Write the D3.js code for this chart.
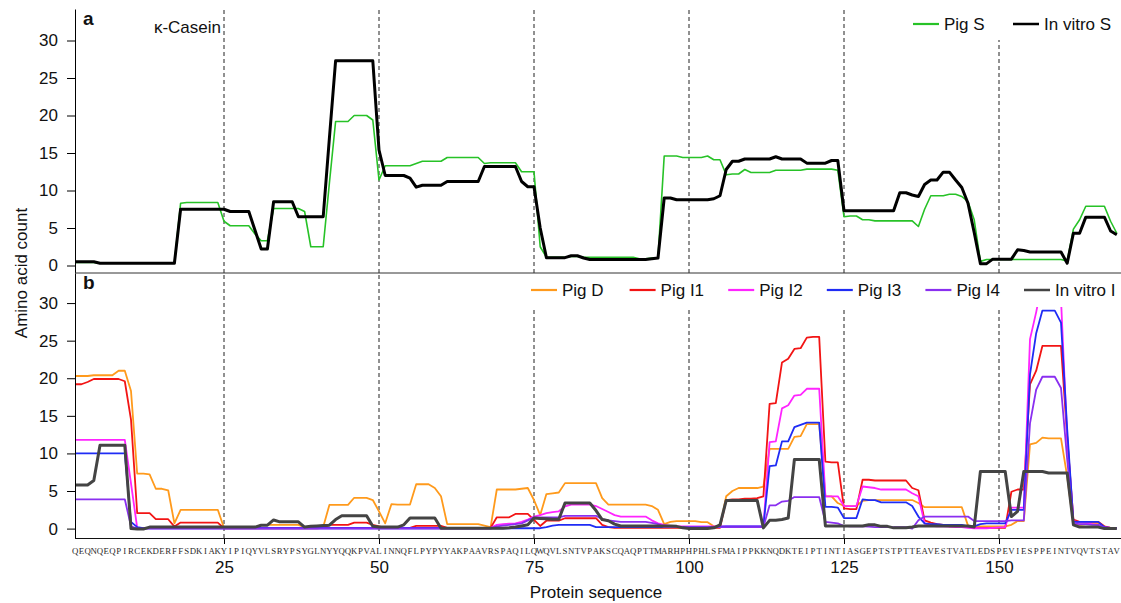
<!doctype html>
<html>
<head>
<meta charset="utf-8">
<script src="https://d3js.org/d3.v7.min.js"></script>
<style>
  body { margin: 0; background: #fff; }
  text { font-family: "Liberation Sans", Arial, Helvetica, sans-serif; }
</style>
</head>
<body>
<script>
// kappa-casein sequence, one letter per residue position
var sequence = "QEQNQEQPIRCEKDERFFSDKIAKYIPIQYVLSRYPSYGLNYYQQKPVALINNQFLPYPYYAKPAAVRSPAQILQWQVLSNTVPAKSCQAQPTTMARHPHPHLSFMAIPPKKNQDKTEIPTINTIASGEPTSTPTTEAVESTVATLEDSPEVIESPPEINTVQVTSTAV";
var xTicks = [25, 50, 75, 100, 125, 150];
var yTicks = [0, 5, 10, 15, 20, 25, 30];

// panel a : stomach
var pigS = [
  0.4,0.4,0.4,0.4,0.3,0.3,0.3,0.3,0.3,0.3,
  0.3,0.3,0.3,0.3,0.3,0.3,0.3,8.3,8.4,8.4,
  8.4,8.4,8.4,8.4,5.9,5.3,5.3,5.3,5.3,4.2,
  3.3,3.3,7.6,7.6,7.6,7.6,7.6,7.2,2.5,2.5,
  2.5,11,19.2,19.2,19.2,20,20,20,19.4,11.4,
  13.3,13.3,13.3,13.3,13.3,13.6,13.9,13.9,13.9,13.9,
  14.4,14.4,14.4,14.4,14.4,14.4,13.6,13.7,13.7,13.7,
  13.7,13.7,12.5,12.5,12.5,2.5,1.1,1.1,1.1,1.1,
  1.2,1.2,1.1,1.1,1.1,1.1,1.1,1.1,1.1,1.1,
  1.1,0.9,0.9,1.0,1.0,14.6,14.6,14.6,14.4,14.4,
  14.4,14.4,14.6,14.1,14.1,12.1,12.2,12.2,12.8,12.4,
  12.4,12.4,12.4,12.7,12.7,12.7,12.7,12.7,12.85,12.85,
  12.85,12.85,12.85,12.7,6.5,6.6,6.6,6.1,6.1,5.95,
  5.95,5.95,5.95,5.95,5.95,5.95,5.2,7.5,9.3,9.3,
  9.3,9.5,9.5,9.2,8.5,6.1,0.55,0.8,0.8,0.8,
  0.8,0.8,0.8,0.8,0.8,0.8,0.8,0.8,0.8,0.8,
  0.6,4.85,6.1,7.9,7.9,7.9,7.9,5.9,4.3
];
var vitroS = [
  0.5,0.5,0.5,0.5,0.3,0.3,0.3,0.3,0.3,0.3,
  0.3,0.3,0.3,0.3,0.3,0.3,0.3,7.5,7.5,7.5,
  7.5,7.5,7.5,7.5,7.5,7.2,7.2,7.2,7.2,4.7,
  2.2,2.2,8.5,8.5,8.5,8.5,6.5,6.5,6.5,6.5,
  6.5,17,27.3,27.3,27.3,27.3,27.3,27.3,27.3,15.4,
  12,12,12,12,11.65,10.45,10.7,10.7,10.7,10.7,
  11.2,11.2,11.2,11.2,11.2,11.2,13.2,13.2,13.2,13.2,
  13.2,13.2,11.2,10.5,10.5,5.0,1.05,1.05,1.05,1.05,
  1.3,1.3,1.0,0.8,0.8,0.8,0.8,0.8,0.8,0.8,
  0.8,0.8,0.8,0.9,1.0,9.0,9.0,8.76,8.76,8.76,
  8.76,8.76,8.76,8.9,9.3,12.8,13.9,13.9,14.2,14.2,
  14.2,14.2,14.2,14.5,14.2,14.2,14.2,14.2,13.65,13.65,
  13.65,13.65,14,14,7.3,7.3,7.3,7.3,7.3,7.3,
  7.3,7.3,7.3,9.7,9.7,9.4,9.2,10.8,11.4,11.4,
  12.45,12.45,11.4,10.4,8.3,4.4,0.25,0.25,0.85,0.85,
  0.85,0.85,2.1,2.0,1.8,1.8,1.8,1.8,1.8,1.8,
  0.3,4.3,4.3,6.45,6.45,6.45,6.45,4.6,4.1
];

// panel b : duodenum, intestine and in vitro intestinal
var pigD = [
  20.3,20.3,20.3,20.4,20.4,20.4,20.4,21.0,21.0,18.3,
  7.3,7.3,7.2,5.3,5.3,5.1,0.7,2.5,2.5,2.5,
  2.5,2.5,2.5,2.5,0.1,0.1,0.1,0.1,0.1,0.1,
  0.5,0.5,0.5,0.5,0.5,0.5,0.5,0.2,0.2,0.2,
  0.2,3.15,3.15,3.15,3.15,4.1,4.1,4.1,3.8,2.3,
  0.7,3.25,3.2,3.2,3.2,5.9,5.9,5.9,5.4,4.3,
  0.6,0.6,0.6,0.6,0.6,0.6,0.4,0.2,5.2,5.2,
  5.2,5.2,5.3,5.4,3.8,1.8,4.6,4.7,4.8,6.05,
  6.05,6.05,6.05,6.05,6.05,4.05,3.2,3.2,3.2,3.2,
  3.2,3.2,3.2,3.0,2.5,0.6,0.9,1.0,1.0,1.0,
  1.0,0.85,0.85,0.3,0.3,4.3,5.0,5.4,5.4,5.4,
  5.4,5.6,10.6,10.6,10.6,10.6,12.2,12.3,13.9,13.9,
  13.9,4.3,4.3,3.4,3.0,3.0,3.0,3.7,3.8,3.8,
  3.8,3.8,3.8,3.8,3.8,3.8,3.4,2.85,2.85,2.85,
  2.85,2.85,2.85,2.85,0.4,0.3,0.3,0.3,0.3,0.3,
  0.3,0.5,1.0,1.0,11.2,11.4,12.1,12.0,12.0,12.0,
  6.9,0.6,0.5,0.6,0.7,0.7,0.2,0.1,0.1
];
var pigI1 = [
  19.2,19.2,19.5,19.9,19.9,19.9,19.9,19.9,19.6,14.5,
  2.05,2.05,2.05,1.25,1.25,1.25,0.27,0.8,0.8,0.8,
  0.8,0.8,0.8,0.8,0.05,0.05,0.05,0.05,0.05,0.05,
  0.05,0.05,0.05,0.05,0.05,0.05,0.05,0.05,0.05,0.05,
  0.1,0.5,0.5,0.5,0.5,0.8,0.8,0.8,0.5,0.3,
  0.1,0.1,0.1,0.1,0.1,0.35,0.35,0.35,0.35,0.35,
  0.1,0.1,0.1,0.1,0.1,0.1,0.1,0.1,1.5,1.5,
  1.5,1.95,1.95,1.95,1.15,0.35,1.05,1.05,1.05,1.38,
  1.38,1.38,1.38,1.38,1.38,0.5,0.2,0.1,0.1,0.1,
  0.1,0.1,0.1,0.1,0.1,0.1,0.1,0.1,0.1,0.1,
  0.1,0.1,0.1,0.1,0.1,3.8,3.9,3.9,4.0,4.0,
  4.05,4.3,16.6,16.7,22.1,22.6,23.9,24.0,25.4,25.5,
  25.5,8.9,8.8,8.8,2.7,2.6,2.6,6.5,6.5,6.4,
  6.4,6.4,6.4,6.4,6.4,5.4,5.1,1.1,0.8,0.6,
  0.5,0.3,0.3,0.3,0.3,0.1,0.1,0.1,0.1,0.1,
  0.1,4.9,5.2,5.2,19.2,21.0,24.3,24.3,24.3,24.3,
  12.2,1.2,0.9,0.9,0.9,0.9,0.3,0.1,0.1
];
var pigI2 = [
  11.8,11.8,11.8,11.8,11.8,11.8,11.8,11.8,11.8,6.0,
  0.1,0.1,0.1,0.1,0.1,0.1,0.1,0.1,0.1,0.1,
  0.1,0.1,0.1,0.1,0.1,0.1,0.1,0.1,0.1,0.1,
  0.1,0.1,0.1,0.1,0.1,0.1,0.1,0.1,0.1,0.1,
  0.1,0.1,0.1,0.1,0.1,0.1,0.1,0.1,0.1,0.1,
  0.1,0.1,0.1,0.1,0.1,0.1,0.1,0.1,0.1,0.1,
  0.1,0.1,0.1,0.1,0.1,0.1,0.1,0.1,0.5,0.6,
  0.65,0.7,0.9,1.2,1.6,1.8,2.05,2.2,2.3,2.95,
  3.2,3.2,3.2,3.2,3.0,2.6,2.2,1.8,1.6,1.6,
  1.6,1.6,1.6,1.1,0.7,0.5,0.35,0.3,0.3,0.3,
  0.3,0.3,0.3,0.3,0.3,0.3,0.3,0.3,0.3,0.3,
  0.3,0.3,11.5,11.6,16.0,16.4,17.7,17.8,18.6,18.6,
  18.6,4.3,4.3,4.3,3.0,3.0,3.0,5.6,5.5,5.4,
  5.2,5.2,5.2,5.2,5.2,4.7,4.3,0.7,0.35,0.3,
  0.3,0.25,0.2,0.2,0.1,0.05,0.05,0.05,0.1,0.15,
  0.2,2.8,2.8,2.8,25.2,28.8,33.0,33.5,33.5,30.5,
  12.0,1.0,0.8,0.8,0.6,0.5,0.2,0.1,0.1
];
var pigI3 = [
  10,10,10,10,10,10,10,10,10,0.9,
  0.2,0.05,0.05,0.05,0.05,0.05,0.05,0.05,0.05,0.05,
  0.05,0.05,0.05,0.05,0.05,0.05,0.05,0.05,0.05,0.05,
  0.05,0.05,0.05,0.05,0.05,0.05,0.05,0.05,0.05,0.05,
  0.05,0.05,0.05,0.05,0.05,0.05,0.05,0.05,0.05,0.05,
  0.05,0.05,0.05,0.05,0.05,0.05,0.05,0.05,0.05,0.05,
  0.05,0.05,0.05,0.05,0.05,0.05,0.05,0.05,0.05,0.05,
  0.05,0.05,0.05,0.05,0.05,0.05,0.2,0.4,0.5,0.5,
  0.5,0.5,0.5,0.5,0.2,0.2,0.2,0.2,0.2,0.2,
  0.2,0.2,0.2,0.2,0.2,0.2,0.2,0.2,0.2,0.2,
  0.2,0.2,0.2,0.2,0.25,0.3,0.3,0.3,0.3,0.3,
  0.3,0.3,8.3,8.4,11.6,11.6,13.5,13.8,14.1,14.1,
  14.1,2.9,2.9,2.8,1.4,1.4,1.4,3.9,3.8,3.8,
  3.5,3.5,3.5,3.5,3.5,3.0,1.6,0.7,0.6,0.6,
  0.5,0.5,0.5,0.5,0.3,0.3,0.6,0.7,0.7,0.7,
  0.7,2.5,2.5,2.5,20.5,26.0,29.0,29.0,29.0,27.4,
  13.2,0.9,0.9,0.9,0.9,0.9,0.2,0.1,0.05
];
var pigI4 = [
  3.9,3.9,3.9,3.9,3.9,3.9,3.9,3.9,3.9,0.3,
  0,0,0,0,0,0,0,0,0,0,
  0,0,0,0,0,0,0,0,0,0,
  0,0,0,0,0,0,0,0,0,0,
  0,0,0,0,0,0,0,0,0,0,
  0,0,0,0,0,0,0,0,0,0,
  0,0,0,0,0,0,0,0,0.3,0.4,
  0.5,0.6,0.7,1.1,1.5,1.5,1.5,1.5,1.5,1.7,
  1.7,1.7,1.7,1.7,1.7,1.25,1.1,1.0,0.9,0.9,
  0.9,0.9,0.9,0.75,0.6,0.2,0.2,0.2,0.2,0.2,
  0.2,0.2,0.2,0.2,0.2,0.2,0.2,0.2,0.2,0.2,
  0.2,0.2,3.1,3.1,3.6,3.7,4.2,4.2,4.2,4.2,
  4.2,0.9,0.8,0.7,0.35,0.3,0.3,0.3,0.25,0.2,
  0.2,0.2,0.2,0.2,0.2,0.0,1.1,1.6,1.6,1.6,
  1.6,1.6,1.6,1.6,1.6,1.0,1.0,1.0,1.0,1.0,
  1.0,1.1,1.1,1.1,14.0,18.5,20.2,20.2,20.2,18.7,
  9.2,0.7,0.6,0.6,0.5,0.5,0.1,0.05,0.05
];
var vitroI = [
  5.8,5.8,5.8,6.4,11.1,11.1,11.1,11.1,11.1,0.0,
  -0.05,-0.05,0.2,0.2,0.2,0.2,0.2,0.2,0.2,0.2,
  0.2,0.2,0.2,0.2,0.2,0.2,0.2,0.2,0.2,0.2,
  0.45,0.45,1.15,0.9,0.9,0.9,0.9,0.2,0.3,0.35,
  0.4,0.45,1.2,1.7,1.7,1.7,1.7,1.7,0.3,0.2,
  0.2,0.2,0.2,0.5,1.4,1.4,1.4,1.4,1.4,0.05,
  0.05,0.05,0.05,0.05,0.05,0.05,0.05,0.05,0.05,0.05,
  0.1,0.2,0.35,0.5,1.4,1.35,1.3,1.25,1.25,3.4,
  3.4,3.4,3.4,3.4,2.4,1.2,1.05,0.6,0.35,0.35,
  0.35,0.35,0.35,0.35,0.35,0.35,0.35,0.3,0.1,0.0,
  0.0,0.0,0.0,0.1,0.5,3.75,3.75,3.75,3.75,3.75,
  3.75,0.1,1.1,1.1,1.2,1.4,9.2,9.2,9.2,9.2,
  9.2,0.35,0.35,0.35,0.35,0.35,0.35,0.35,0.5,0.5,
  0.3,0.3,0.1,0.1,0.1,0.2,0.35,0.35,0.35,0.35,
  0.35,0.35,0.35,0.35,0.35,0.2,7.6,7.6,7.6,7.6,
  7.6,1.6,2.3,7.6,7.6,7.6,7.6,7.4,7.4,7.4,
  7.4,0.5,0.2,0.2,0.2,0.2,0.0,0.0,0.0
];

// page and scales
var width = 1121, height = 603;
var left = 75, right = 1121;

var svg = d3.select("body")
  .append("svg")
    .attr("width", width)
    .attr("height", height);

var x = d3.scaleLinear()
  .domain([1, sequence.length])
  .range([75.2, 1116.8]);

var panels = [
  {
    label: "a",
    y: d3.scaleLinear().domain([-1, 34.2]).range([273, 9]),
    series: [
      {name: "Pig S", values: pigS, color: "#27c227", width: 1.6},
      {name: "In vitro S", values: vitroS, color: "#000000", width: 3}
    ],
    legendStart: 913, legendStep: 100, legendY: 24,
    box: {x: 900, y: 9, w: 221, h: 31}
  },
  {
    label: "b",
    y: d3.scaleLinear().domain([-1.25, 34]).range([538, 273]),
    series: [
      {name: "Pig D", values: pigD, color: "#ff9a1c", width: 1.8},
      {name: "Pig I1", values: pigI1, color: "#f21414", width: 1.8},
      {name: "Pig I2", values: pigI2, color: "#ff24ff", width: 1.8},
      {name: "Pig I3", values: pigI3, color: "#1f2cf5", width: 1.8},
      {name: "Pig I4", values: pigI4, color: "#8a2ff0", width: 1.8},
      {name: "In vitro I", values: vitroI, color: "#444444", width: 3}
    ],
    legendStart: 531, legendStep: 98.6, legendY: 290,
    box: {x: 522, y: 274, w: 599, h: 33}
  }
];

panels.forEach(function(p) {
  var g = svg.append("g");
  var y = p.y;

  // dashed guide lines every 25 residues
  g.selectAll(".guide")
    .data(xTicks)
    .join("line")
      .attr("x1", d => x(d)).attr("x2", d => x(d))
      .attr("y1", y.range()[0]).attr("y2", y.range()[1])
      .attr("stroke", "#222")
      .attr("stroke-width", 1)
      .attr("stroke-dasharray", "4,3");

  // the series
  var line = d3.line()
    .x((d, i) => x(i + 1))
    .y(d => y(d));

  p.series.forEach(function(s) {
    g.append("path")
      .datum(s.values)
      .attr("fill", "none")
      .attr("stroke", s.color)
      .attr("stroke-width", s.width)
      .attr("stroke-linejoin", "round")
      .attr("d", line);
  });

  // legend sits on a white box
  g.append("rect")
    .attr("x", p.box.x).attr("y", p.box.y)
    .attr("width", p.box.w).attr("height", p.box.h)
    .attr("fill", "#fff");

  var leg = g.selectAll(".leg")
    .data(p.series)
    .join("g")
      .attr("transform", (d, i) => `translate(${p.legendStart + i * p.legendStep}, ${p.legendY})`);
  leg.append("line")
    .attr("x1", 0).attr("x2", 26)
    .attr("stroke", d => d.color)
    .attr("stroke-width", d => d.width > 2 ? 2.5 : 2.2);
  leg.append("text")
    .attr("x", 31).attr("y", 6)
    .attr("font-size", 17)
    .attr("fill", "#111")
    .text(d => d.name);

  // panel letter
  g.append("text")
    .attr("x", 83)
    .attr("y", y.range()[1] + 16)
    .attr("font-size", 19)
    .attr("font-weight", "bold")
    .attr("fill", "#111")
    .text(p.label);

  // y axis
  var yAxis = d3.axisLeft(y)
    .tickValues(yTicks)
    .tickSize(8)
    .tickSizeOuter(0)
    .tickPadding(9);
  var ay = g.append("g")
    .attr("transform", `translate(${left}, 0)`)
    .call(yAxis);
  ay.selectAll("text")
    .attr("font-size", 17)
    .attr("font-family", "Liberation Sans, Arial, sans-serif")
    .attr("fill", "#111");
});

// protein name in panel a
svg.append("text")
  .attr("x", x(25) - 3)
  .attr("y", 33)
  .attr("text-anchor", "end")
  .attr("font-size", 17)
  .attr("fill", "#111")
  .text("\u03BA-Casein");

// frame line between the panels
svg.append("line")
  .attr("x1", left).attr("x2", right)
  .attr("y1", 273).attr("y2", 273)
  .attr("stroke", "#333");

// x axis with the residue numbers
var xAxis = d3.axisBottom(x)
  .tickValues(xTicks)
  .tickSize(6)
  .tickSizeOuter(0)
  .tickPadding(17);
var ax = svg.append("g")
  .attr("transform", "translate(0, 538)")
  .call(xAxis);
ax.select(".domain").remove();
ax.selectAll("text")
  .attr("font-size", 17)
  .attr("font-family", "Liberation Sans, Arial, sans-serif")
  .attr("fill", "#111");
svg.append("line")
  .attr("x1", left).attr("x2", right)
  .attr("y1", 538.5).attr("y2", 538.5)
  .attr("stroke", "#111");

// sequence letters along the bottom
svg.append("g")
  .selectAll("text")
  .data(sequence.split(""))
  .join("text")
    .attr("x", (d, i) => x(i + 1))
    .attr("y", 554)
    .attr("text-anchor", "middle")
    .attr("font-size", 8.8)
    .style("font-family", "'Liberation Serif', 'Times New Roman', serif")
    .attr("fill", "#2a2a2a")
    .text(d => d);

// axis titles
svg.append("text")
  .attr("x", (x.range()[0] + x.range()[1]) / 2)
  .attr("y", 598)
  .attr("text-anchor", "middle")
  .attr("font-size", 17)
  .attr("fill", "#111")
  .text("Protein sequence");

svg.append("text")
  .attr("transform", "translate(27, 273) rotate(-90)")
  .attr("text-anchor", "middle")
  .attr("font-size", 17)
  .attr("fill", "#111")
  .text("Amino acid count");
</script>
</body>
</html>
